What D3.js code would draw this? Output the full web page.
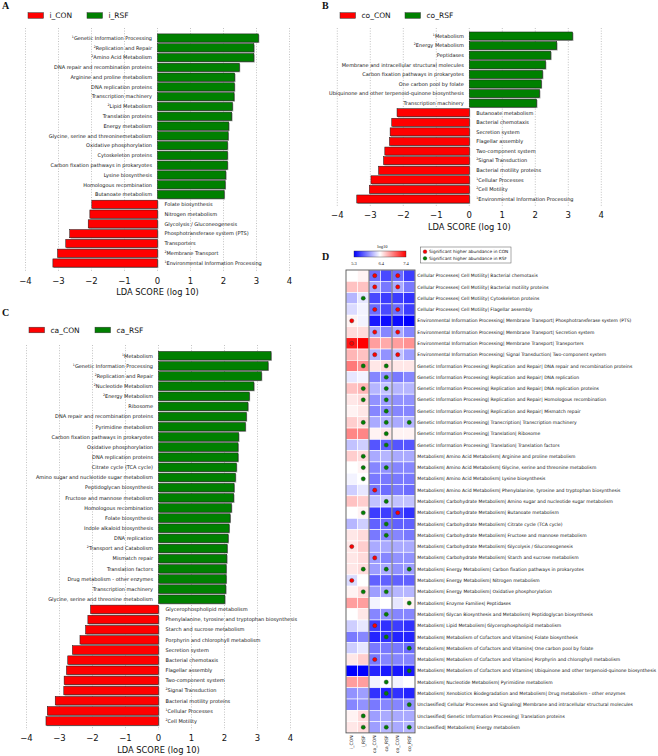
<!DOCTYPE html>
<html><head><meta charset="utf-8">
<script src="https://cdn.jsdelivr.net/npm/d3@7"></script>
<style>body{margin:0;background:#fff} svg{display:block} text{font-family:"DejaVu Sans",sans-serif;fill:#111}</style>
</head><body><svg id="c" width="658" height="756"></svg>
<script>
// ---------------- DATA ----------------
const aGroups = ["i_CON", "i_RSF"];
const aLabels = ["Genetic Information Processing","Replication and Repair","Amino Acid Metabolism","DNA repair and recombination proteins","Arginine and proline metabolism","DNA replication proteins","Transcription machinery","Lipid Metabolism","Translation proteins","Energy metabolism","Glycine, serine and threoninemetabolism","Oxidative phosphorylation","Cytoskeleton proteins","Carbon fixation pathways in prokaryotes","Lysine biosynthesis","Homologous recombination","Butanoate metabolism","Folate biosynthesis","Nitrogen metabolism","Glycolysis / Gluconeogenesis","Phosphotransferase system (PTS)","Transporters","Membrane Transport","Environmental Information Processing"];
const aSup = ["1","2","2","","","","","2","","","","","","","","","","","","","","","2","1"];
const aValues = [3.06,2.92,2.92,2.48,2.34,2.33,2.32,2.27,2.25,2.16,2.14,2.12,2.12,2.12,2.07,2.05,2.02,-1.99,-2.05,-2.10,-2.66,-2.78,-3.03,-3.17];

const bGroups = ["co_CON", "co_RSF"];
const bLabels = ["Metabolism","Energy Metabolism","Peptidases","Membrane and intracellular structural molecules","Carbon fixation pathways in prokaryotes","One carbon pool by folate","Ubiquinone and other terpenoid-quinone biosynthesis","Transcription machinery","Butanoate metabolism","Bacterial chemotaxis","Secretion system","Flagellar assembly","Two-component system","Signal Transduction","Bacterial motility proteins","Cellular Processes","Cell Motility","Environmental Information Processing"];
const bSup = ["1","2","","","","","","","","","","","","2","","1","2","1"];
const bValues = [3.13,2.65,2.47,2.31,2.22,2.18,2.13,2.04,-2.19,-2.35,-2.40,-2.42,-2.56,-2.60,-2.75,-2.98,-3.03,-3.41];

const cGroups = ["ca_CON", "ca_RSF"];
const cLabels = ["Metabolism","Genetic Information Processing","Replication and Repair","Nucleotide Metabolism","Energy Metabolism","Ribosome","DNA repair and recombination proteins","Pyrimidine metabolism","Carbon fixation pathways in prokaryotes","Oxidative phosphorylation","DNA replication proteins","Citrate cycle (TCA cycle)","Amino sugar and nucleotide sugar metabolism","Peptidoglycan biosynthesis","Fructose and mannose metabolism","Homologous recombination","Folate biosynthesis","Indole alkaloid biosynthesis","DNA replication","Transport and Catabolism","Mismatch repair","Translation factors","Drug metabolism - other enzymes","Transcription machinery","Glycine, serine and threonine metabolism","Glycerophospholipid metabolism","Phenylalanine, tyrosine and tryptophan biosynthesis","Starch and sucrose metabolism","Porphyrin and chlorophyll metabolism","Secretion system","Bacterial chemotaxis","Flagellar assembly","Two-component system","Signal Transduction","Bacterial motility proteins","Cellular Processes","Cell Motility"];
const cSup = ["1","1","2","2","2","","","","","","","","","","","","","","","2","","","","","","","","","","","","","","2","","1","2"];
const cValues = [3.41,3.32,3.12,2.89,2.75,2.71,2.66,2.63,2.43,2.41,2.41,2.36,2.33,2.29,2.28,2.21,2.17,2.14,2.11,2.08,2.07,2.05,2.05,2.04,2.01,-2.06,-2.14,-2.21,-2.38,-2.61,-2.75,-2.79,-2.86,-2.87,-3.13,-3.37,-3.41];

const ldaTicks = [-4,-3,-2,-1,0,1,2,3,4];

const hmColumns = ["i_CON","i_RSF","ca_CON","ca_RSF","co_CON","co_RSF"];
const hmRows = [
"Cellular Processes| Cell Motility| Bacterial chemotaxis",
"Cellular Processes| Cell Motility| Bacterial motility proteins",
"Cellular Processes| Cell Motility| Cytoskeleton proteins",
"Cellular Processes| Cell Motility| Flagellar assembly",
"Environmental Information Processing| Membrane Transport| Phosphotransferase system (PTS)",
"Environmental Information Processing| Membrane Transport| Secretion system",
"Environmental Information Processing| Membrane Transport| Transporters",
"Environmental Information Processing| Signal Transduction| Two-component system",
"Genetic Information Processing| Replication and Repair| DNA repair and recombination proteins",
"Genetic Information Processing| Replication and Repair| DNA replication",
"Genetic Information Processing| Replication and Repair| DNA replication proteins",
"Genetic Information Processing| Replication and Repair| Homologous recombination",
"Genetic Information Processing| Replication and Repair| Mismatch repair",
"Genetic Information Processing| Transcription| Transcription machinery",
"Genetic Information Processing| Translation| Ribosome",
"Genetic Information Processing| Translation| Translation factors",
"Metabolism| Amino Acid Metabolism| Arginine and proline metabolism",
"Metabolism| Amino Acid Metabolism| Glycine, serine and threonine metabolism",
"Metabolism| Amino Acid Metabolism| Lysine biosynthesis",
"Metabolism| Amino Acid Metabolism| Phenylalanine, tyrosine and tryptophan biosynthesis",
"Metabolism| Carbohydrate Metabolism| Amino sugar and nucleotide sugar metabolism",
"Metabolism| Carbohydrate Metabolism| Butanoate metabolism",
"Metabolism| Carbohydrate Metabolism| Citrate cycle (TCA cycle)",
"Metabolism| Carbohydrate Metabolism| Fructose and mannose metabolism",
"Metabolism| Carbohydrate Metabolism| Glycolysis / Gluconeogenesis",
"Metabolism| Carbohydrate Metabolism| Starch and sucrose metabolism",
"Metabolism| Energy Metabolism| Carbon fixation pathways in prokaryotes",
"Metabolism| Energy Metabolism| Nitrogen metabolism",
"Metabolism| Energy Metabolism| Oxidative phosphorylation",
"Metabolism| Enzyme Families| Peptidases",
"Metabolism| Glycan Biosynthesis and Metabolism| Peptidoglycan biosynthesis",
"Metabolism| Lipid Metabolism| Glycerophospholipid metabolism",
"Metabolism| Metabolism of Cofactors and Vitamins| Folate biosynthesis",
"Metabolism| Metabolism of Cofactors and Vitamins| One carbon pool by folate",
"Metabolism| Metabolism of Cofactors and Vitamins| Porphyrin and chlorophyll metabolism",
"Metabolism| Metabolism of Cofactors and Vitamins| Ubiquinone and other terpenoid-quinone biosynthesis",
"Metabolism| Nucleotide Metabolism| Pyrimidine metabolism",
"Metabolism| Xenobiotics Biodegradation and Metabolism| Drug metabolism - other enzymes",
"Unclassified| Cellular Processes and Signaling| Membrane and intracellular structural molecules",
"Unclassified| Genetic Information Processing| Translation proteins",
"Unclassified| Metabolism| Energy metabolism"];
// log10 abundance per row: i_CON, i_RSF, ca_CON, ca_RSF, co_CON, co_RSF
const hmValues = [
[6.35,6.40,5.75,5.60,5.75,5.55],
[6.60,6.60,6.00,5.80,6.00,5.80],
[6.05,6.25,5.60,5.55,5.55,5.50],
[6.20,6.30,5.75,5.60,5.75,5.55],
[6.40,6.30,5.40,5.35,5.35,5.30],
[6.50,6.50,6.00,5.85,6.00,5.85],
[7.30,7.40,6.75,6.70,6.75,6.80],
[6.65,6.60,6.05,5.90,6.10,5.95],
[6.90,6.80,6.45,6.50,6.45,6.45],
[6.25,6.30,5.85,5.90,5.80,5.85],
[6.60,6.65,6.05,6.10,6.05,6.05],
[6.45,6.50,5.90,5.95,5.90,5.90],
[6.40,6.45,5.85,5.90,5.85,5.85],
[6.55,6.50,6.00,6.05,6.00,6.05],
[6.85,6.85,6.40,6.45,6.40,6.40],
[6.10,6.15,5.65,5.70,5.65,5.65],
[6.55,6.50,6.00,6.05,6.00,6.00],
[6.35,6.40,5.85,5.90,5.85,5.85],
[6.30,6.35,5.80,5.80,5.80,5.80],
[6.15,6.25,5.80,5.75,5.80,5.75],
[6.60,6.55,6.10,6.15,6.10,6.10],
[6.35,6.40,5.55,5.55,5.60,5.50],
[6.05,6.15,5.70,5.75,5.70,5.70],
[6.45,6.50,5.80,5.85,5.85,5.80],
[6.45,6.55,6.00,6.00,6.00,6.00],
[6.45,6.50,5.95,5.85,5.90,5.90],
[6.45,6.50,5.95,6.00,5.90,5.95],
[6.20,6.35,5.70,5.70,5.70,5.70],
[6.40,6.50,5.95,6.00,6.05,6.05],
[6.75,6.75,6.30,6.35,6.25,6.40],
[6.35,6.45,5.85,5.90,5.85,5.85],
[6.15,6.25,5.55,5.50,5.55,5.50],
[5.80,5.85,5.45,5.50,5.45,5.45],
[6.15,6.25,5.80,5.80,5.80,5.75],
[6.45,6.55,5.80,5.85,5.85,5.85],
[5.30,5.30,5.45,5.40,5.40,5.40],
[6.75,6.75,6.30,6.35,6.30,6.35],
[5.90,5.95,5.50,5.45,5.50,5.45],
[5.85,5.90,5.80,5.85,5.85,5.90],
[6.40,6.50,5.95,6.00,6.00,6.00],
[6.45,6.50,5.95,6.05,6.00,6.05]];
// significance markers per row: column name -> "CON" (red) / "RSF" (green)
const hmMarks = [
{ca_CON:"CON",co_CON:"CON"},{ca_CON:"CON",co_CON:"CON"},{i_RSF:"RSF"},{ca_CON:"CON",co_CON:"CON"},
{i_CON:"CON"},{ca_CON:"CON",co_CON:"CON"},{i_CON:"CON"},{ca_CON:"CON",co_CON:"CON"},
{i_RSF:"RSF",ca_RSF:"RSF"},{ca_RSF:"RSF"},{i_RSF:"RSF",ca_RSF:"RSF"},{i_RSF:"RSF",ca_RSF:"RSF"},
{ca_RSF:"RSF"},{i_RSF:"RSF",ca_RSF:"RSF",co_RSF:"RSF"},{ca_RSF:"RSF"},{ca_RSF:"RSF"},
{i_RSF:"RSF"},{i_RSF:"RSF",ca_RSF:"RSF"},{i_RSF:"RSF"},{ca_CON:"CON"},
{ca_RSF:"RSF"},{i_RSF:"RSF",co_CON:"CON"},{ca_RSF:"RSF"},{ca_RSF:"RSF"},
{i_CON:"CON"},{ca_CON:"CON"},{i_RSF:"RSF",ca_RSF:"RSF",co_RSF:"RSF"},{i_CON:"CON"},
{i_RSF:"RSF",ca_RSF:"RSF"},{co_RSF:"RSF"},{ca_RSF:"RSF"},{ca_CON:"CON"},
{ca_RSF:"RSF"},{co_RSF:"RSF"},{ca_CON:"CON"},{co_RSF:"RSF"},
{ca_RSF:"RSF"},{ca_RSF:"RSF"},{co_RSF:"RSF"},{i_RSF:"RSF"},{i_RSF:"RSF",ca_RSF:"RSF",co_RSF:"RSF"}];
const hmScaleTicks = [5.3, 6.4, 7.4];
const hmLegend = ["Significant higher abundance in CON","Significant higher abundance in RSF"];

// ---------------- DRAW ----------------
const svg = d3.select("#c");
const RED = "#ff0000", GREEN = "#008000";

function lefse(o) {
  const g = svg.append("g");
  const x = d3.scaleLinear().domain([-4, 4]).range(o.xr);
  const y = d3.scalePoint().domain(d3.range(o.labels.length)).range([o.y0, o.y1]);
  const step = y.step(), bh = step * 0.84;
  g.selectAll("line.grid").data(ldaTicks).join("line")
    .attr("x1", d => x(d)).attr("x2", d => x(d))
    .attr("y1", o.gTop).attr("y2", o.gBot)
    .attr("stroke", "#9a9a9a").attr("stroke-width", 0.6).attr("stroke-dasharray", "1,1.6");
  g.selectAll("rect.sh").data(o.values).join("rect")
    .attr("x", d => Math.min(x(0), x(d)) + 0.9).attr("y", (d, i) => y(i) - bh / 2 + 0.9)
    .attr("width", d => Math.abs(x(d) - x(0))).attr("height", bh).attr("fill", "#a8a8a8");
  g.selectAll("rect.bar").data(o.values).join("rect")
    .attr("x", d => Math.min(x(0), x(d))).attr("y", (d, i) => y(i) - bh / 2)
    .attr("width", d => Math.abs(x(d) - x(0))).attr("height", bh)
    .attr("fill", d => d > 0 ? GREEN : RED).attr("stroke", "#1a1a1a").attr("stroke-width", 0.5);
  const t = g.selectAll("text.lab").data(o.values).join("text")
    .attr("x", d => d > 0 ? x(0) - 5.5 : x(0) + 7)
    .attr("y", (d, i) => y(i) + 1.8)
    .attr("text-anchor", d => d > 0 ? "end" : "start")
    .attr("font-size", 5);
  t.each(function (d, i) {
    const s = d3.select(this);
    if (o.sup[i]) {
      s.append("tspan").attr("font-size", 3.2).attr("dy", -2).text(o.sup[i]);
      s.append("tspan").attr("dy", 2).text(o.labels[i]);
    } else s.append("tspan").text(o.labels[i]);
  });
  g.selectAll("text.tk").data(ldaTicks).join("text")
    .attr("x", d => x(d)).attr("y", o.tickY).attr("text-anchor", "middle")
    .attr("font-size", 8.5).text(d => d < 0 ? "\u2212" + Math.abs(d) : d);
  g.append("text").attr("x", x(0)).attr("y", o.titleY).attr("text-anchor", "middle")
    .attr("font-size", 8.3).text("LDA SCORE (log 10)");
  o.groups.forEach((name, k) => {
    const lx = o.leg[k];
    g.append("rect").attr("x", lx).attr("y", o.legY - 2.8).attr("width", 15.5).attr("height", 5.6)
      .attr("fill", k === 0 ? RED : GREEN).attr("stroke", "#333").attr("stroke-width", 0.5);
    g.append("text").attr("x", lx + 21.5).attr("y", o.legY + 2.8).attr("font-size", 7.5).text(name);
  });
}

lefse({labels: aLabels, sup: aSup, values: aValues, groups: aGroups, xr: [25.5, 289.5],
  y0: 38, y1: 263, gTop: 28, gBot: 271, tickY: 283.5, titleY: 295, leg: [28, 87], legY: 15.5});
lefse({labels: bLabels, sup: bSup, values: bValues, groups: bGroups, xr: [337.3, 601.3],
  y0: 36, y1: 199, gTop: 28, gBot: 206, tickY: 218.3, titleY: 229.5, leg: [340, 405], legY: 15.5});
lefse({labels: cLabels, sup: cSup, values: cValues, groups: cGroups, xr: [26.5, 290.5],
  y0: 355.7, y1: 721, gTop: 345, gBot: 730, tickY: 740.7, titleY: 753, leg: [29, 95], legY: 330});

[["A", 2, 8.5], ["B", 322, 8.5], ["C", 2, 315.5], ["D", 322, 260]].forEach(([s, x, y]) =>
  svg.append("text").attr("x", x).attr("y", y).attr("font-size", 10).attr("font-weight", "bold")
    .style("font-family", "'Liberation Serif',serif").text(s));

// ---------------- HEATMAP ----------------
const hm = svg.append("g");
const hx = d3.scaleBand().domain(hmColumns).range([346, 415]);
const hy = d3.scaleBand().domain(hmRows).range([270, 270 + 41 * 11.29]);
const col = d3.scaleLinear().domain([5.3, 6.35, 7.4]).range(["#0000ff", "#ffffff", "#ff0000"]).clamp(true);
const cells = [];
hmRows.forEach((r, i) => hmColumns.forEach((c, j) => cells.push({r, c, v: hmValues[i][j], m: hmMarks[i][c]})));
hm.selectAll("rect.cell").data(cells).join("rect")
  .attr("x", d => hx(d.c)).attr("y", d => hy(d.r)).attr("width", hx.bandwidth()).attr("height", hy.bandwidth())
  .attr("fill", d => col(d.v)).attr("stroke", "#fff").attr("stroke-width", 0.6);
hm.append("rect").attr("x", 346).attr("y", hy.range()[0]).attr("width", 69).attr("height", hy.range()[1] - hy.range()[0])
  .attr("fill", "none").attr("stroke", "#555").attr("stroke-width", 0.9);
["ca_CON", "co_CON"].forEach(c => hm.append("line").attr("x1", hx(c)).attr("x2", hx(c))
  .attr("y1", hy.range()[0]).attr("y2", hy.range()[1]).attr("stroke", "#555").attr("stroke-width", 0.9));
hm.selectAll("circle.mk").data(cells.filter(d => d.m)).join("circle")
  .attr("cx", d => hx(d.c) + hx.bandwidth() / 2).attr("cy", d => hy(d.r) + hy.bandwidth() / 2).attr("r", 2.1)
  .attr("fill", d => d.m === "CON" ? RED : GREEN).attr("stroke", "#333").attr("stroke-width", 0.4);
hm.selectAll("text.rl").data(hmRows).join("text")
  .attr("x", 417.3).attr("y", d => hy(d) + hy.bandwidth() / 2 + 1.6).attr("font-size", 4.5).text(d => d);
hm.selectAll("text.cl").data(hmColumns).join("text")
  .attr("transform", d => `translate(${hx(d) + hx.bandwidth() / 2 + 1.6},${hy.range()[1] + 2.5}) rotate(-90)`)
  .attr("text-anchor", "end").attr("font-size", 4.5).text(d => d);
const grad = svg.append("defs").append("linearGradient").attr("id", "cb");
[[0, "#0000ff"], [0.5, "#ffffff"], [1, "#ff0000"]].forEach(([o, c]) =>
  grad.append("stop").attr("offset", o).attr("stop-color", c));
const cbx = d3.scaleLinear().domain([5.3, 7.4]).range([354, 406]);
hm.append("rect").attr("x", 354).attr("y", 251).attr("width", 52).attr("height", 6)
  .attr("fill", "url(#cb)").attr("stroke", "#333").attr("stroke-width", 0.4);
hm.selectAll("text.cbt").data(hmScaleTicks).join("text")
  .attr("x", d => cbx(d)).attr("y", 264.5).attr("text-anchor", "middle").attr("font-size", 4.5)
  .style("font-family", "'Liberation Serif',serif").text(d => d.toFixed(1));
hm.append("text").attr("x", 382.5).attr("y", 247.5).attr("text-anchor", "middle").attr("font-size", 4.5)
  .style("font-family", "'Liberation Serif',serif").text("log10");
hm.append("rect").attr("x", 420.7).attr("y", 247).attr("width", 90.3).attr("height", 16)
  .attr("fill", "#fff").attr("stroke", "#555").attr("stroke-width", 0.5);
hmLegend.forEach((s, k) => {
  hm.append("circle").attr("cx", 425).attr("cy", 251.7 + k * 6.6).attr("r", 1.9)
    .attr("fill", k === 0 ? RED : GREEN).attr("stroke", "#333").attr("stroke-width", 0.3);
  hm.append("text").attr("x", 429).attr("y", 253.2 + k * 6.6).attr("font-size", 4.3).text(s);
});
</script></body></html>
